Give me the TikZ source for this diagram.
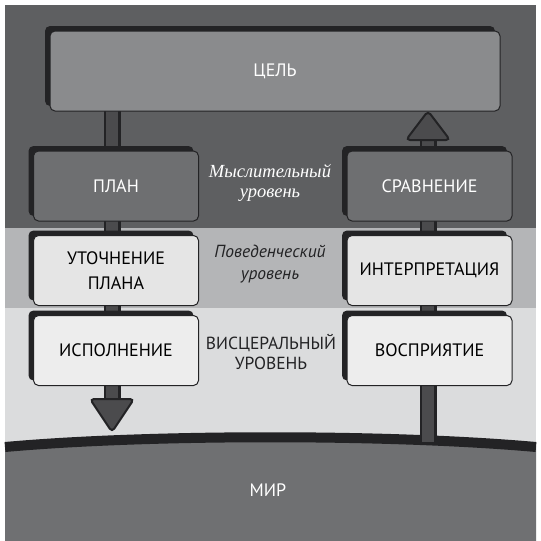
\documentclass[tikz,border=0pt]{standalone}
\usepackage{fontspec}
\setmainfont{PT Sans}
\newfontfamily\mindfont{Liberation Serif}
\usetikzlibrary{shadows}

\definecolor{bandtop}{HTML}{5E5F61}
\definecolor{bandmid}{HTML}{B4B5B7}
\definecolor{bandlow}{HTML}{DBDCDD}
\definecolor{worldgray}{HTML}{6F7072}
\definecolor{goalfill}{HTML}{8A8B8D}
\definecolor{thinkfill}{HTML}{6E6F71}
\definecolor{actfill}{HTML}{E5E5E5}
\definecolor{gutfill}{HTML}{EDEDED}
\definecolor{inkdark}{HTML}{232325}
\definecolor{shaftfill}{HTML}{4B4B4D}

\tikzset{
  box/.style={rectangle, rounded corners=5pt, draw=inkdark, line width=1pt,
    minimum width=165pt, minimum height=70pt, align=center,
    font=\fontsize{18}{25}\selectfont,
    drop shadow={shadow xshift=-5pt, shadow yshift=5pt, opacity=1, fill=inkdark}},
  shaft/.style={draw=inkdark, line width=2.5pt, double=shaftfill, double distance=12pt},
  tip/.style={fill=shaftfill, draw=inkdark, line width=2pt, rounded corners=4pt},
  level/.style={align=center, font=\fontsize{17.5}{20}\selectfont}
}

\begin{document}
\begin{tikzpicture}[x=1pt,y=-1pt]
    \useasboundingbox (0,0) rectangle (541,541);
    \fill[white] (0,0) rectangle (541,541);
    \fill[bandtop] (5,5) rectangle (536,228);
    \fill[bandmid] (5,228) rectangle (536,308);
    \fill[bandlow] (5,308) rectangle (536,460);
    \fill[worldgray] (5,447) .. controls (150,434) and (390,434) .. (536,447) -- (536,541) -- (5,541) -- cycle;
    \draw[inkdark, line width=10pt] (5,447) .. controls (150,434) and (390,434) .. (536,447);

    \coordinate (ltop) at (112,111);
    \coordinate (lend) at (112,400);
    \coordinate (rtop) at (428,139);
    \coordinate (rend) at (428,442);
    \draw[shaft] (ltop) -- (lend);
    \draw[shaft] (rend) -- (rtop);
    \filldraw[tip] (90,399) -- (134,399) -- (112,432) -- cycle;
    \filldraw[tip] (406,140) -- (450,140) -- (428,111) -- cycle;

    \node[box, fill=goalfill, text=white, minimum width=450pt, minimum height=80pt] (cel) at (275,71) {ЦЕЛЬ};
    \node[box, fill=thinkfill, text=white] (plan) at (116,186) {ПЛАН};
    \node[box, fill=actfill] (utoch) at (116,270.5) {УТОЧНЕНИЕ\\ПЛАНА};
    \node[box, fill=gutfill] (ispoln) at (116,350.5) {ИСПОЛНЕНИЕ};
    \node[box, fill=thinkfill, text=white] (sravn) at (429.5,186) {СРАВНЕНИЕ};
    \node[box, fill=actfill] (interp) at (429.5,270.5) {ИНТЕРПРЕТАЦИЯ};
    \node[box, fill=gutfill] (vospr) at (429.5,350.5) {ВОСПРИЯТИЕ};

    \node[level, text=white, font=\mindfont\itshape\fontsize{18.5}{20}\selectfont] (mysl) at (270,183) {Мыслительный\\уровень};
    \node[level, text=inkdark, font=\itshape\fontsize{17.5}{22}\selectfont] (pov) at (270,264) {Поведенческий\\уровень};
    \node[level, text=inkdark] (visc) at (271,352) {ВИСЦЕРАЛЬНЫЙ\\УРОВЕНЬ};
    \node[text=white, font=\fontsize{18}{20}\selectfont] (mir) at (268,490) {МИР};
\end{tikzpicture}
\end{document}
